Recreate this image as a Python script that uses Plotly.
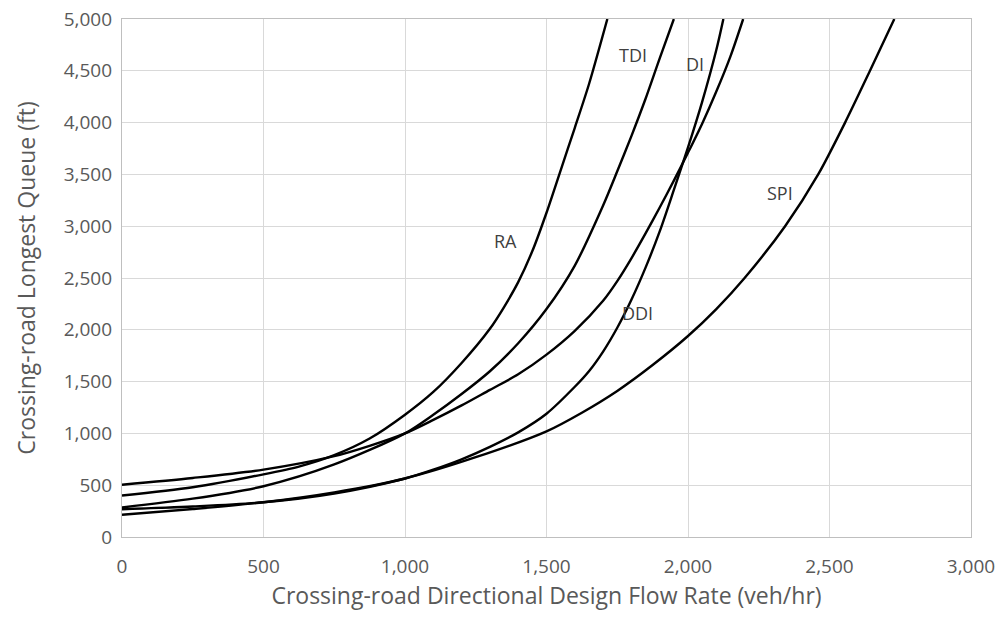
import plotly.graph_objects as go

# Crossing-road directional design flow rate (veh/hr) vs longest queue (ft)
ra_x = [0, 250, 500, 625, 750, 875, 1000, 1100, 1200, 1300, 1350, 1400, 1450, 1500, 1550, 1600, 1650, 1715]
ra_y = [400, 480, 605, 680, 790, 950, 1180, 1400, 1680, 2010, 2220, 2460, 2760, 3130, 3540, 3950, 4370, 5000]

tdi_x = [0, 250, 500, 750, 1000, 1100, 1200, 1300, 1400, 1500, 1600, 1700, 1750, 1800, 1850, 1900, 1950]
tdi_y = [285, 370, 490, 700, 1000, 1180, 1380, 1600, 1870, 2200, 2620, 3200, 3530, 3870, 4230, 4620, 5000]

di_x = [0, 250, 500, 750, 875, 1000, 1100, 1200, 1300, 1400, 1500, 1600, 1700, 1750, 1800, 1850, 1900,
        1950, 2000, 2050, 2100, 2150, 2195]
di_y = [505, 570, 650, 780, 880, 1000, 1130, 1270, 1420, 1570, 1760, 1990, 2280, 2470, 2690, 2930, 3180,
        3440, 3710, 3990, 4300, 4640, 5000]

ddi_x = [0, 250, 500, 750, 1000, 1100, 1200, 1300, 1400, 1500, 1600, 1650, 1700, 1750, 1800, 1850,
         1900, 1950, 2000, 2050, 2100, 2125]
ddi_y = [268, 295, 335, 420, 565, 650, 750, 870, 1010, 1190, 1450, 1600, 1790, 2020, 2290, 2600,
         2950, 3350, 3760, 4200, 4700, 5000]

spi_x = [0, 250, 500, 750, 1000, 1250, 1500, 1625, 1750, 1875, 2000, 2100, 2200, 2343, 2460, 2555, 2643, 2729]
spi_y = [215, 270, 335, 430, 565, 770, 1020, 1200, 1410, 1660, 1940, 2200, 2500, 3000, 3500, 4000, 4500, 5000]

series = [("RA", ra_x, ra_y), ("TDI", tdi_x, tdi_y), ("DI", di_x, di_y),
          ("DDI", ddi_x, ddi_y), ("SPI", spi_x, spi_y)]

label_text = ["RA", "TDI", "DI", "DDI", "SPI"]
label_x = [1355, 1807, 2023, 1823, 2325]
label_y = [2862, 4652, 4570, 2162, 3325]

fig = go.Figure()
for name, xs, ys in series:
    fig.add_trace(go.Scatter(x=xs, y=ys, mode="lines", name=name,
                             line=dict(color="black", width=2.4, shape="spline",
                                       smoothing=0.8, simplify=False),
                             cliponaxis=True, showlegend=False))

for t, x, y in zip(label_text, label_x, label_y):
    fig.add_annotation(x=x, y=y, text=t, showarrow=False,
                       font=dict(family="Open Sans", size=18, color="#404040"))

fig.update_layout(
    width=1003, height=624,
    margin=dict(l=122, r=32, t=19, b=87, pad=0),
    paper_bgcolor="white", plot_bgcolor="white",
    font=dict(family="Open Sans", color="#595959"),
)
fig.update_xaxes(range=[0, 3000], tickvals=[0, 500, 1000, 1500, 2000, 2500, 3000],
                 tickformat=",", showgrid=True, gridcolor="#d9d9d9", gridwidth=1.3,
                 showline=True, linecolor="#bfbfbf", linewidth=1.3, mirror=True,
                 zeroline=False, ticks="outside", ticklen=12, tickcolor="rgba(0,0,0,0)",
                 automargin=False, ticklabeloverflow="allow",
                 tickfont=dict(size=19, color="#595959"),
                 title=dict(text="Crossing-road Directional Design Flow Rate (veh/hr)",
                            font=dict(size=23, color="#595959"), standoff=2))
fig.update_yaxes(range=[0, 5000], tickvals=list(range(0, 5001, 500)),
                 tickformat=",", showgrid=True, gridcolor="#d9d9d9", gridwidth=1.3,
                 showline=True, linecolor="#bfbfbf", linewidth=1.3, mirror=True,
                 zeroline=False, ticks="outside", ticklen=5, tickcolor="rgba(0,0,0,0)",
                 automargin=False, ticklabeloverflow="allow",
                 tickfont=dict(size=19, color="#595959"),
                 title=dict(text="Crossing-road Longest Queue (ft)",
                            font=dict(size=23, color="#595959"), standoff=21))

fig.write_html("out.html", config={"displayModeBar": False},
               post_script="document.body.style.margin='0px';document.body.style.overflow='hidden';")
